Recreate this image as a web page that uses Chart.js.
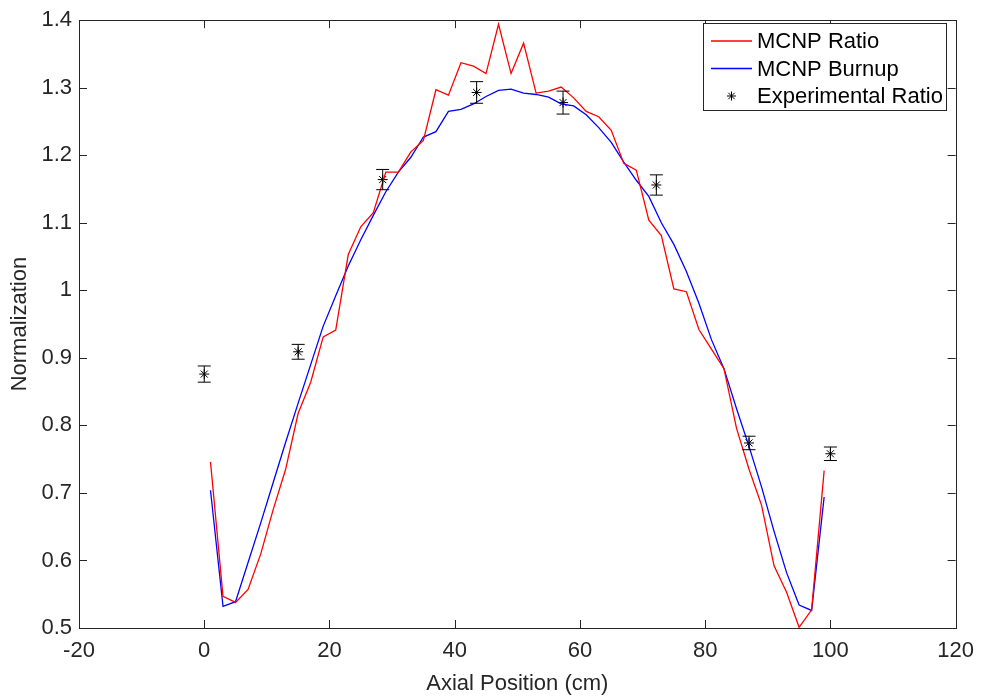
<!DOCTYPE html>
<html>
<head>
<meta charset="utf-8">
<title>Axial normalization</title>
<script src="https://cdn.jsdelivr.net/npm/chart.js@4.4.1/dist/chart.umd.min.js"></script>
<style>
    html, body { margin: 0; padding: 0; background: #fff; }
    #chart { display: block; }
</style>
</head>
<body>
<canvas id="chart" width="984" height="698"></canvas>
<script>
// MCNP axial positions (cm)
const mcnpX = [1, 3, 5, 7, 9, 11, 13, 15, 17, 19, 21, 23, 25, 27, 29, 31, 33, 35, 37, 39,
    41, 43, 45, 47, 49, 51, 53, 55, 57, 59, 61, 63, 65, 67, 69, 71, 73, 75, 77, 79,
    81, 83, 85, 87, 89, 91, 93, 95, 97, 99];

// MCNP Ratio (red)
const mcnpRatio = [0.746, 0.547, 0.538, 0.557, 0.609, 0.675, 0.735, 0.818, 0.864, 0.931,
    0.941, 1.053, 1.094, 1.115, 1.175, 1.175, 1.205, 1.222, 1.297, 1.289,
    1.337, 1.332, 1.321, 1.394, 1.321, 1.366, 1.292, 1.295, 1.301, 1.285,
    1.265, 1.257, 1.237, 1.188, 1.178, 1.104, 1.081, 1.002, 0.998, 0.942,
    0.913, 0.884, 0.796, 0.735, 0.682, 0.592, 0.553, 0.501, 0.527, 0.733];

// MCNP Burnup (blue)
const mcnpBurnup = [0.704, 0.532, 0.539, 0.597, 0.655, 0.715, 0.775, 0.833, 0.890, 0.947,
    0.992, 1.036, 1.075, 1.111, 1.146, 1.175, 1.197, 1.227, 1.235, 1.265,
    1.268, 1.276, 1.287, 1.296, 1.298, 1.292, 1.290, 1.286, 1.276, 1.273,
    1.260, 1.241, 1.219, 1.190, 1.163, 1.139, 1.100, 1.068, 1.028, 0.981,
    0.927, 0.884, 0.825, 0.769, 0.709, 0.643, 0.582, 0.534, 0.526, 0.694];

// Experimental ratio with error bars
const expX = [0, 15, 28.5, 43.5, 57.3, 72.2, 87, 100];
const expY = [0.876, 0.909, 1.164, 1.293, 1.278, 1.156, 0.774, 0.758];
const expErr = [0.012, 0.011, 0.015, 0.016, 0.017, 0.015, 0.010, 0.010];

const legendLabels = ['MCNP Ratio', 'MCNP Burnup', 'Experimental Ratio'];

const axisColor = '#262626';
const fontFamily = '"Liberation Sans", Arial, Helvetica, sans-serif';
const fontSize = 22;

function toPoints(xs, ys) {
    return xs.map((x, i) => ({ x: x, y: ys[i] }));
}

// draws the box, and inward ticks on all four sides (MATLAB style)
const frameTicks = {
    id: 'frameTicks',
    afterDraw(chart) {
        const { ctx, chartArea: a, scales } = chart;
        const len = 8;
        ctx.save();
        ctx.strokeStyle = axisColor;
        ctx.lineWidth = 1;
        ctx.beginPath();
        scales.x.ticks.forEach(t => {
            const px = Math.round(scales.x.getPixelForValue(t.value)) + 0.5;
            ctx.moveTo(px, a.bottom);
            ctx.lineTo(px, a.bottom - len);
            ctx.moveTo(px, a.top);
            ctx.lineTo(px, a.top + len);
        });
        scales.y.ticks.forEach(t => {
            const py = Math.round(scales.y.getPixelForValue(t.value)) + 0.5;
            ctx.moveTo(a.left, py);
            ctx.lineTo(a.left + len, py);
            ctx.moveTo(a.right, py);
            ctx.lineTo(a.right - len, py);
        });
        ctx.stroke();
        ctx.strokeRect(Math.round(a.left) + 0.5, Math.round(a.top) + 0.5,
            Math.round(a.right - a.left), Math.round(a.bottom - a.top));
        ctx.restore();
    }
};

// vertical error bars for the experimental series
const errorBars = {
    id: 'errorBars',
    afterDatasetsDraw(chart) {
        const { ctx, scales } = chart;
        const cap = 6.5;
        ctx.save();
        ctx.strokeStyle = '#000';
        ctx.lineWidth = 1;
        ctx.beginPath();
        expX.forEach((x, i) => {
            const px = scales.x.getPixelForValue(x);
            const top = scales.y.getPixelForValue(expY[i] + expErr[i]);
            const bot = scales.y.getPixelForValue(expY[i] - expErr[i]);
            ctx.moveTo(px, top);
            ctx.lineTo(px, bot);
            ctx.moveTo(px - cap, top);
            ctx.lineTo(px + cap, top);
            ctx.moveTo(px - cap, bot);
            ctx.lineTo(px + cap, bot);
        });
        ctx.stroke();
        ctx.restore();
    }
};

// boxed legend in the upper right corner of the axes
const boxLegend = {
    id: 'boxLegend',
    afterDraw(chart) {
        const { ctx } = chart;
        const x0 = 703.5, y0 = 23.5, w = 243, h = 87;
        const rows = [41, 68.5, 96];
        ctx.save();
        ctx.fillStyle = '#fff';
        ctx.fillRect(x0, y0, w, h);
        ctx.strokeStyle = axisColor;
        ctx.lineWidth = 1;
        ctx.strokeRect(x0, y0, w, h);

        ctx.lineWidth = 1.3;
        ctx.strokeStyle = '#ff0000';
        ctx.beginPath(); ctx.moveTo(711, rows[0]); ctx.lineTo(752, rows[0]); ctx.stroke();
        ctx.strokeStyle = '#0000ff';
        ctx.beginPath(); ctx.moveTo(711, rows[1]); ctx.lineTo(752, rows[1]); ctx.stroke();

        // asterisk marker
        const cx = 731.5, cy = rows[2], r = 4.5, d = r * Math.SQRT1_2;
        ctx.strokeStyle = '#000';
        ctx.lineWidth = 1;
        ctx.beginPath();
        ctx.moveTo(cx - r, cy); ctx.lineTo(cx + r, cy);
        ctx.moveTo(cx, cy - r); ctx.lineTo(cx, cy + r);
        ctx.moveTo(cx - d, cy - d); ctx.lineTo(cx + d, cy + d);
        ctx.moveTo(cx - d, cy + d); ctx.lineTo(cx + d, cy - d);
        ctx.stroke();

        ctx.fillStyle = '#000';
        ctx.font = fontSize + 'px ' + fontFamily;
        ctx.textBaseline = 'middle';
        ctx.textAlign = 'left';
        legendLabels.forEach((t, i) => ctx.fillText(t, 757, rows[i] + 1));
        ctx.restore();
    }
};

new Chart(document.getElementById('chart').getContext('2d'), {
    type: 'scatter',
    data: {
        datasets: [
            {
                label: legendLabels[0],
                data: toPoints(mcnpX, mcnpRatio),
                showLine: true,
                borderColor: '#ff0000',
                borderWidth: 1.3,
                pointRadius: 0,
                tension: 0
            },
            {
                label: legendLabels[1],
                data: toPoints(mcnpX, mcnpBurnup),
                showLine: true,
                borderColor: '#0000ff',
                borderWidth: 1.3,
                pointRadius: 0,
                tension: 0
            },
            {
                label: legendLabels[2],
                data: toPoints(expX, expY),
                showLine: false,
                pointStyle: 'star',
                pointRadius: 5,
                borderColor: '#000',
                backgroundColor: '#000',
                borderWidth: 1
            }
        ]
    },
    options: {
        responsive: false,
        animation: false,
        events: [],
        layout: { padding: { top: 11, right: 27, left: 0, bottom: 0 } },
        plugins: {
            legend: { display: false },
            tooltip: { enabled: false }
        },
        scales: {
            x: {
                type: 'linear',
                min: -20,
                max: 120,
                grid: { display: false, drawTicks: false },
                border: { display: false },
                ticks: {
                    stepSize: 20,
                    padding: 10,
                    color: axisColor,
                    maxRotation: 0,
                    font: { family: fontFamily, size: fontSize }
                },
                title: {
                    display: true,
                    text: 'Axial Position (cm)',
                    color: axisColor,
                    font: { family: fontFamily, size: fontSize },
                    padding: { top: 0, bottom: 1 }
                },
                afterFit(s) { s.height = 70; }
            },
            y: {
                type: 'linear',
                min: 0.5,
                max: 1.4,
                grid: { display: false, drawTicks: false },
                border: { display: false },
                ticks: {
                    stepSize: 0.1,
                    padding: 7,
                    color: axisColor,
                    font: { family: fontFamily, size: fontSize },
                    callback: v => String(Number(v.toFixed(1)))
                },
                title: {
                    display: true,
                    text: 'Normalization',
                    color: axisColor,
                    font: { family: fontFamily, size: fontSize },
                    padding: { top: 7, bottom: 0 }
                },
                afterFit(s) { s.width = 79; }
            }
        }
    },
    plugins: [errorBars, frameTicks, boxLegend]
});
</script>
</body>
</html>
